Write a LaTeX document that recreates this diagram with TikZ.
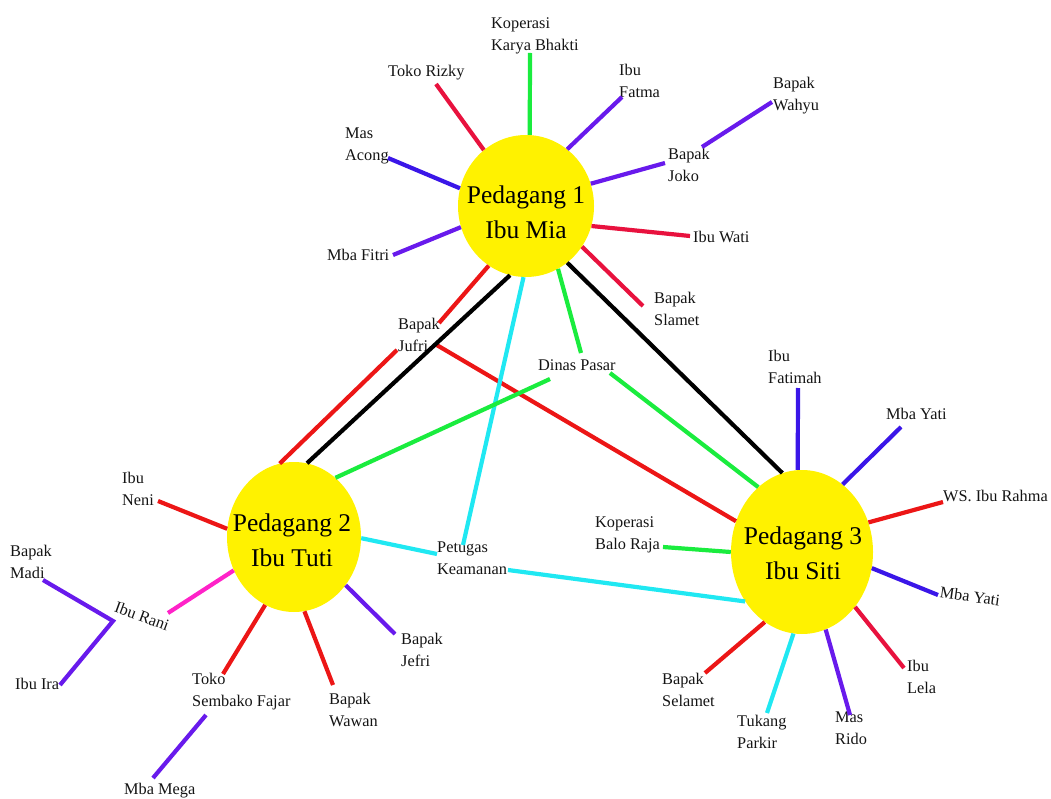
\documentclass[tikz,border=0pt]{standalone}
\usepackage{fontspec}
\setmainfont{Liberation Serif}
\usetikzlibrary{shapes.geometric,calc}
\definecolor{lred}{RGB}{236,22,22}
\definecolor{crim}{RGB}{232,18,62}
\definecolor{lblue}{RGB}{58,22,232}
\definecolor{lpurp}{RGB}{104,26,236}
\definecolor{lgreen}{RGB}{26,236,62}
\definecolor{lcyan}{RGB}{32,232,242}
\definecolor{lmag}{RGB}{255,34,200}
\definecolor{hubyellow}{RGB}{255,242,0}
\begin{document}
\begin{tikzpicture}[x=1pt,y=-1pt,
  hub/.style={ellipse, fill=hubyellow, inner sep=0pt},
  lbl/.style={font=\fontsize{16.3}{22}\selectfont, inner sep=0pt, align=left, anchor=north west, text=black!92},
  big/.style={font=\fontsize{25.5}{35}\selectfont, inner sep=0pt, align=center, text=black},
  ln/.style={line width=4.2pt}]
\useasboundingbox (0,0) rectangle (1051,799);

% hubs
\node[hub, minimum width=136pt, minimum height=142pt] (p1) at (526,206) {};
\node[hub, minimum width=134pt, minimum height=150pt] (p2) at (294,537) {};
\node[hub, minimum width=142pt, minimum height=164pt] (p3) at (802,552) {};

% labels around Pedagang 1
\node[lbl] (kkb) at (491,18) {Koperasi\\Karya Bhakti};
\node[lbl] (tr) at (388,65) {Toko Rizky};
\node[lbl] (ifa) at (619,64) {Ibu\\Fatma};
\node[lbl] (ma) at (345,128) {Mas\\Acong};
\node[lbl] (bj) at (668,148) {Bapak\\Joko};
\node[lbl] (bw) at (773,77) {Bapak\\Wahyu};
\node[lbl] (iw) at (693,231) {Ibu Wati};
\node[lbl] (mf) at (327,249) {Mba Fitri};
\node[lbl] (bs) at (654,292) {Bapak\\Slamet};
\node[lbl] (bjf) at (398,318) {Bapak\\Jufri};
\node[lbl] (dp) at (538,360) {Dinas Pasar};
\node[lbl] (pk) at (437,542) {Petugas\\Keamanan};

% labels around Pedagang 3
\node[lbl] (ift) at (768,350) {Ibu\\Fatimah};
\node[lbl] (my1) at (886,408) {Mba Yati};
\node[lbl] (wsr) at (943,490) {WS. Ibu Rahma};
\node[lbl, anchor=center, rotate=-8] (my2) at (970,596) {Mba Yati};
\node[lbl] (il) at (907,660) {Ibu\\Lela};
\node[lbl] (mr) at (835,712) {Mas\\Rido};
\node[lbl] (tp) at (737,715) {Tukang\\Parkir};
\node[lbl] (bsl) at (662,673) {Bapak\\Selamet};
\node[lbl] (kbr) at (595,517) {Koperasi\\Balo Raja};

% labels around Pedagang 2
\node[lbl] (in) at (122,472) {Ibu\\Neni};
\node[lbl, anchor=center, rotate=-20] (ir) at (142,616) {Ibu Rani};
\node[lbl] (bm) at (10,545) {Bapak\\Madi};
\node[lbl] (ii) at (15,678) {Ibu Ira};
\node[lbl] (tsf) at (192,673) {Toko\\Sembako Fajar};
\node[lbl] (mm) at (124,783) {Mba Mega};
\node[lbl] (bwa) at (329,693) {Bapak\\Wawan};
\node[lbl] (bje) at (401,633) {Bapak\\Jefri};

% connector end points
\coordinate (kkbE) at (530,53);
\coordinate (trE) at (436,84);
\coordinate (ifaE) at (622,97);
\coordinate (maE) at (388,158);
\coordinate (bjE) at (665,163);
\coordinate (bjE2) at (702,147);
\coordinate (bwE) at (772,102);
\coordinate (iwE) at (690,236);
\coordinate (mfE) at (393,255);
\coordinate (bsE) at (643,306);
\coordinate (jufA) at (439,323);
\coordinate (jufB) at (397,350);
\coordinate (jufC) at (435,344);
\coordinate (dpA) at (581,353);
\coordinate (dpB) at (550,379);
\coordinate (dpC) at (610,373);
\coordinate (pkA) at (463,545);
\coordinate (pkB) at (437,554);
\coordinate (pkC) at (508,570);
\coordinate (iftE) at (798,388);
\coordinate (my1E) at (901,427);
\coordinate (wsrE) at (943,502);
\coordinate (my2E) at (938,595);
\coordinate (ilE) at (904,668);
\coordinate (mrE) at (850,715);
\coordinate (tpE) at (767,713);
\coordinate (bslE) at (705,673);
\coordinate (kbrE) at (663,547);
\coordinate (inE) at (158,501);
\coordinate (irE) at (168,613);
\coordinate (bmE) at (43,580);
\coordinate (jn) at (113,621);
\coordinate (iiE) at (60,685);
\coordinate (tsfE) at (223,674);
\coordinate (mmA) at (206,715);
\coordinate (mmB) at (153,778);
\coordinate (bwaE) at (333,685);
\coordinate (bjeE) at (395,634);

% Pedagang 1 spokes
\draw[ln,lgreen] (p1.87) -- (kkbE);
\draw[ln,crim] (p1.127) -- (trE);
\draw[ln,lpurp] (p1.54) -- (ifaE);
\draw[ln,lblue] (p1.165) -- (maE);
\draw[ln,lpurp] (p1.19) -- (bjE);
\draw[ln,lpurp] (bjE2) -- (bwE);
\draw[ln,crim] (p1.-17) -- (iwE);
\draw[ln,lpurp] (p1.198) -- (mfE);
\draw[ln,crim] (p1.-36) -- (bsE);

% links between hubs
\draw[ln,lred] (p1.238) -- (jufA);
\draw[ln,lred] (jufB) -- (p2.101);
\draw[ln,lred] (jufC) -- (p3.155);
\draw[ln,black] (p1.257) -- (p2.80);
\draw[ln,black] (p1.-54) -- (p3.104);
\draw[ln,lcyan] (p1.268) -- (pkA);
\draw[ln,lcyan] (p2.-1) -- (pkB);
\draw[ln,lcyan] (pkC) -- (p3.221);
\draw[ln,lgreen] (p1.-63) -- (dpA);
\draw[ln,lgreen] (dpB) -- (p2.55);
\draw[ln,lgreen] (dpC) -- (p3.124);

% Pedagang 3 spokes
\draw[ln,lblue] (p3.93) -- (iftE);
\draw[ln,lblue] (p3.59) -- (my1E);
\draw[ln,lred] (p3.24) -- (wsrE);
\draw[ln,lblue] (p3.-13) -- (my2E);
\draw[ln,crim] (p3.-46) -- (ilE);
\draw[ln,lpurp] (p3.-73) -- (mrE);
\draw[ln,lcyan] (p3.264) -- (tpE);
\draw[ln,lred] (p3.242) -- (bslE);
\draw[ln,lgreen] (p3.180) -- (kbrE);

% Pedagang 2 spokes
\draw[ln,lred] (p2.173) -- (inE);
\draw[ln,lmag] (p2.209) -- (irE);
\draw[ln,lpurp] (bmE) -- (jn) -- (iiE);
\draw[ln,lred] (p2.247) -- (tsfE);
\draw[ln,lpurp] (mmA) -- (mmB);
\draw[ln,lred] (p2.278) -- (bwaE);
\draw[ln,lpurp] (p2.317) -- (bjeE);

% hub texts
\node[big] (p1t) at (526,212) {Pedagang 1\\Ibu Mia};
\node[big] (p2t) at (292,540) {Pedagang 2\\Ibu Tuti};
\node[big] (p3t) at (803,553) {Pedagang 3\\Ibu Siti};
\end{tikzpicture}
\end{document}
